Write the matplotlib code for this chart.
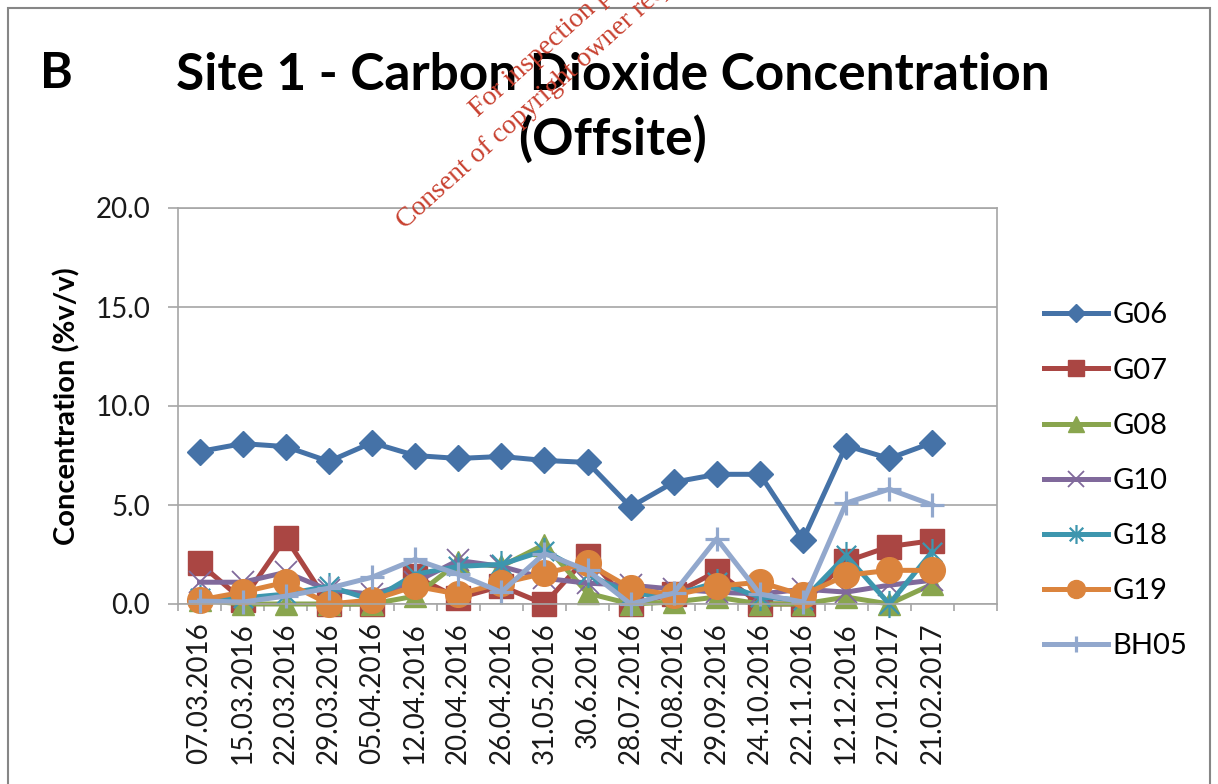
import matplotlib
matplotlib.use("Agg")
import matplotlib.pyplot as plt
from matplotlib.path import Path
from matplotlib.patches import Rectangle

# --- data ---
dates = ["07.03.2016", "15.03.2016", "22.03.2016", "29.03.2016", "05.04.2016",
         "12.04.2016", "20.04.2016", "26.04.2016", "31.05.2016", "30.6.2016",
         "28.07.2016", "24.08.2016", "29.09.2016", "24.10.2016", "22.11.2016",
         "12.12.2016", "27.01.2017", "21.02.2017"]
n_slots = 19  # the category axis has one trailing empty slot

G06 = [7.7, 8.1, 7.95, 7.2, 8.15, 7.5, 7.35, 7.45, 7.25, 7.15, 4.9, 6.15, 6.55, 6.55, 3.25, 8.0, 7.35, 8.15]
G07 = [2.05, 0.2, 3.35, 0.0, 0.0, 1.4, 0.3, 0.9, 0.0, 2.4, 0.0, 0.5, 1.65, 0.0, 0.0, 2.15, 2.9, 3.2]
G08 = [0.2, 0.0, 0.0, 0.0, 0.0, 0.4, 2.1, 1.9, 3.0, 0.55, 0.0, 0.1, 0.35, 0.0, 0.0, 0.35, 0.0, 1.0]
G10 = [1.1, 1.1, 1.6, 0.7, 0.5, 1.1, 2.2, 1.9, 1.3, 1.05, 0.95, 0.75, 0.6, 0.5, 0.75, 0.6, 0.95, 1.2]
G18 = [0.3, 0.3, 0.5, 0.9, 0.2, 1.5, 1.9, 2.0, 2.7, 1.5, 0.5, 0.45, 1.1, 0.35, 0.2, 2.45, 0.0, 2.65]
G19 = [0.2, 0.6, 1.1, 0.0, 0.2, 0.9, 0.5, 1.05, 1.55, 2.05, 0.8, 0.45, 0.9, 1.1, 0.45, 1.45, 1.7, 1.7]
BH05 = [0.15, 0.1, 0.4, 0.8, 1.35, 2.25, 1.5, 0.6, 2.55, 1.7, 0.0, 0.55, 3.3, 0.5, 0.1, 5.1, 5.8, 5.0]

yticks = [0, 5, 10, 15, 20]

# asterisk marker (x plus a vertical bar), as Excel draws it
STAR = Path([(-0.5, -0.5), (0.5, 0.5), (-0.5, 0.5), (0.5, -0.5), (0, -0.7), (0, 0.7)],
            [Path.MOVETO, Path.LINETO, Path.MOVETO, Path.LINETO, Path.MOVETO, Path.LINETO])

series = [
    ("G06", G06, "#4572A7", "D", 13.5, 1.0),
    ("G07", G07, "#AA4643", "s", 17, 1.0),
    ("G08", G08, "#89A54E", "^", 15.5, 1.0),
    ("G10", G10, "#80699B", "x", 16.5, 1.3),
    ("G18", G18, "#3D96AE", STAR, 19.5, 1.6),
    ("G19", G19, "#DB843D", "o", 18.5, 1.0),
    ("BH05", BH05, "#92A8CD", "+", 17, 2.3),
]

FONT = "Lato"
GRID = "#a6a6a6"
W, H = 1218, 784

fig = plt.figure(figsize=(W / 100, H / 100), dpi=100)
ax = fig.add_axes([178 / W, 1 - 604 / H, (997 - 178) / W, (604 - 208) / H])

x = list(range(len(dates)))
for name, vals, col, mk, ms, mew in series:
    ax.plot(x, vals, color=col, lw=3.6, marker=mk, ms=ms, mfc=col, mec=col,
            mew=mew, label=name, clip_on=False, solid_joinstyle="round")

ax.set_xlim(-0.5, n_slots - 0.5)
ax.set_ylim(0, 20)
ax.set_yticks(yticks)
ax.set_yticklabels([f"{v:.1f}" for v in yticks], fontsize=20, family=FONT, color="#1a1a1a")
ax.set_xticks(x)
ax.set_xticklabels(dates, rotation=90, fontsize=20, family=FONT, color="#1a1a1a")
ax.set_xticks([i - 0.5 for i in range(n_slots + 1)], minor=True)
ax.tick_params(axis="x", which="major", length=0, pad=13)
ax.tick_params(axis="x", which="minor", length=5, width=1.2, color=GRID)
ax.tick_params(axis="y", length=7, width=1.2, color=GRID, pad=13)
ax.grid(axis="y", color=GRID, lw=1.2)
ax.set_axisbelow(True)
for s in ax.spines.values():
    s.set_color(GRID)
    s.set_linewidth(1.2)

ax.set_ylabel("Concentration (%v/v)", fontsize=21, family=FONT, fontweight="bold")
ax.yaxis.set_label_coords(80 / W, 1 - 406 / H, transform=fig.transFigure)

tkw = dict(ha="center", va="baseline", fontsize=37, family=FONT, fontweight="bold")
fig.text(613 / W, 1 - 90 / H, "Site 1 - Carbon Dioxide Concentration", **tkw)
fig.text(613 / W, 1 - 155 / H, "(Offsite)", **tkw)
fig.text(40 / W, 1 - 88 / H, "B", ha="left", va="baseline", fontsize=36,
         family=FONT, fontweight="bold")

ax.legend(loc="center left", bbox_to_anchor=(1044 / W, 1 - 481 / H),
          bbox_transform=fig.transFigure, frameon=False, borderpad=0,
          borderaxespad=0, handlelength=2.19, handletextpad=0.17,
          labelspacing=1.0, markerscale=0.7, prop={"family": FONT, "size": 21})

# watermark stamped on the scanned page
wm = dict(color="#c8402f", fontsize=20, family="Liberation Serif", rotation=42,
          rotation_mode="anchor", ha="left", va="baseline", zorder=10)
fig.text(478 / W, 1 - 118 / H, "For inspection purposes only.", **wm)
fig.text(405 / W, 1 - 230 / H, "Consent of copyright owner required for any other use.", **wm)

# outer chart frame
fig.add_artist(Rectangle((8 / W, -0.05), (1210 - 8) / W, 1.05 - 8 / H,
                         transform=fig.transFigure, fill=False, ec="#868686", lw=1.5))

fig.savefig("out.png", dpi=100)
